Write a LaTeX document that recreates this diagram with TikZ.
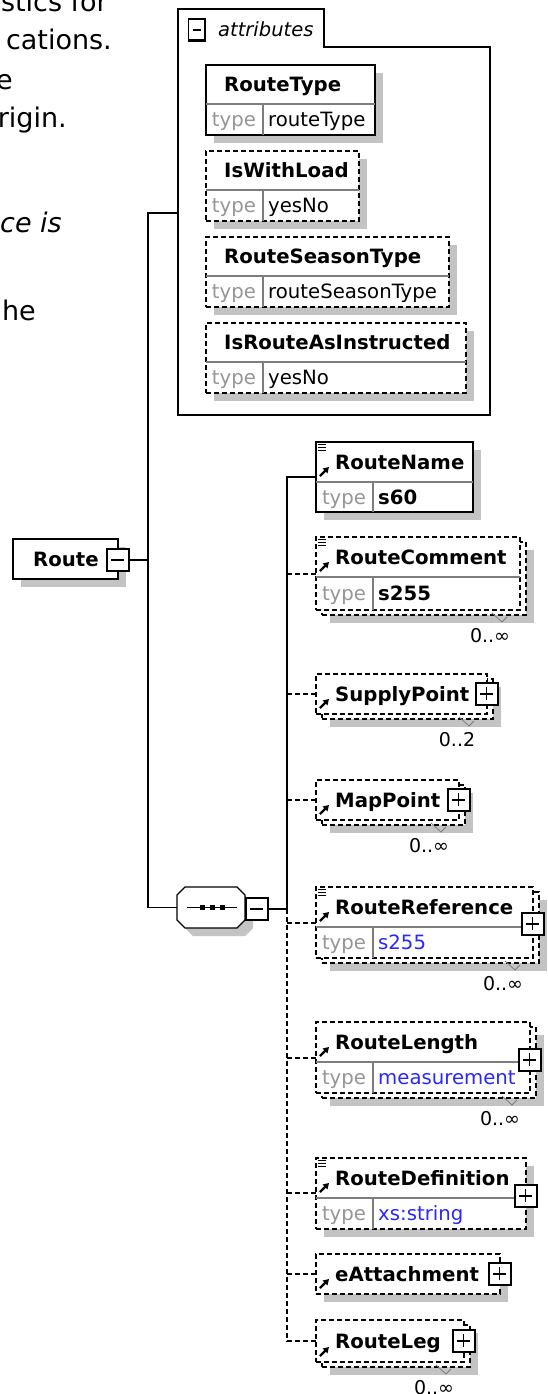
\documentclass[tikz,border=0pt]{standalone}
\usepackage{fontspec}
\setmainfont{DejaVu Sans}
\usetikzlibrary{arrows.meta}
\pgfdeclarelayer{bg}
\pgfsetlayers{bg,main}
\definecolor{shd}{RGB}{195,195,195}
\definecolor{tgray}{RGB}{150,150,150}
\definecolor{dgray}{RGB}{125,125,125}
\definecolor{tblue}{RGB}{40,40,255}
\newcommand{\shadowof}[1]{\begin{pgfonlayer}{bg}\fill[shd] ([shift={(8pt,-8pt)}]#1.north west) rectangle ([shift={(8pt,-8pt)}]#1.south east);\end{pgfonlayer}}
\newcommand{\docicon}[1]{\foreach \dy in {2.5pt,5.5pt,8.5pt}{\draw[line width=1.1pt] ([shift={(2pt,-\dy)}]#1.north west) -- ([shift={(9.5pt,-\dy)}]#1.north west);}}
\newcommand{\refarrow}[3]{\draw[line width=2.2pt,-{Triangle[length=5.5pt,width=6.5pt]}] ([shift={(4pt,-#2)}]#1.north west) -- ([shift={(13pt,-#3)}]#1.north west);}
\newcommand{\typedcell}[5]{%
  \draw[divl] ([yshift=-#2]#1.north west) -- ([yshift=-#2]#1.north east);
  \draw[divl] ([shift={(57pt,-#2)}]#1.north west) -- ([xshift=57pt]#1.south west);
  \node[tp] (#1-tl) at ([shift={(28pt,-#3)}]#1.north west) {type};
  \node[#4] (#1-tv) at ([shift={(62pt,-#3)}]#1.north west) {#5};}
\newcommand{\multmark}[2]{%
  \draw[dgray,line width=0.8pt] ([shift={(-34pt,2pt)}]#1.south east) -- ([shift={(-24pt,-7pt)}]#1.south east) -- ([shift={(-19pt,-2pt)}]#1.south east);
  \node[mult] (#1-mult) at ([shift={(-36pt,-21pt)}]#1.south east) {#2};}
\begin{document}
\begin{tikzpicture}[x=1pt,y=-1pt,
  box/.style={draw=black, fill=white, line width=1.5pt, inner sep=0pt, outer sep=0pt, anchor=north west},
  opt/.style={dash pattern=on 5pt off 3pt},
  nm/.style={font=\fontsize{19.7}{22}\selectfont\bfseries, inner sep=0pt, anchor=west, text height=14.2pt, text depth=0pt},
  tp/.style={font=\fontsize{19.7}{22}\selectfont, text=tgray, inner sep=0pt, text height=14.2pt, text depth=0pt},
  val/.style={font=\fontsize{19.7}{22}\selectfont, inner sep=0pt, anchor=west, text height=14.2pt, text depth=0pt},
  bval/.style={val, font=\fontsize{19.7}{22}\selectfont\bfseries},
  bluev/.style={val, text=tblue},
  mult/.style={font=\fontsize{19}{21}\selectfont, inner sep=0pt, text height=13.5pt, text depth=0pt},
  divl/.style={draw=dgray, line width=1.2pt},
  conn/.style={line width=1.5pt},
  para/.style={font=\fontsize{27}{32}\selectfont, inner sep=0pt, anchor=base east},
  btn/.style={draw=black, fill=white, line width=1.2pt, solid, minimum width=22pt, minimum height=22pt, inner sep=0pt, outer sep=0pt},
  minusbtn/.style={btn, path picture={
    \draw[line width=3pt] (path picture bounding box.north east) -- (path picture bounding box.south east) -- (path picture bounding box.south west);
    \draw[line width=1.5pt] ([xshift=4pt]path picture bounding box.west) -- ([xshift=-5pt]path picture bounding box.east);}},
  plusbtn/.style={btn, path picture={
    \draw[line width=3pt] (path picture bounding box.north east) -- (path picture bounding box.south east) -- (path picture bounding box.south west);
    \draw[line width=1.5pt] ([xshift=4pt]path picture bounding box.west) -- ([xshift=-5pt]path picture bounding box.east);
    \draw[line width=1.5pt] ([yshift=-4pt,xshift=-0.5pt]path picture bounding box.north) -- ([yshift=5pt,xshift=-0.5pt]path picture bounding box.south);}}
]
\useasboundingbox (0,0) rectangle (548,1394);

% ---- cut-off paragraph text on the left
\node[para] (p1) at (108,12) {stics for};
\node[para] (p2) at (112,50) {cations.};
\node[para] (p3) at (13,90) {e};
\node[para] (p4) at (67,128) {rigin.};
\node[para, font=\fontsize{27}{32}\selectfont\itshape] (p5) at (62,232) {ce is};
\node[para] (p6) at (36,320) {he};

% ---- attributes group
\node[box, draw=none, fill=none, minimum width=312pt, minimum height=368pt] (attrs) at (178,47) {};
\draw[line width=1.5pt] (attrs.north east) -- (attrs.south east) -- (attrs.south west) -- ([yshift=38pt]attrs.north west) -- ([shift={(146pt,38pt)}]attrs.north west) -- ([xshift=146pt]attrs.north west) -- cycle;
\node[minusbtn, minimum width=17pt, minimum height=22pt] (attrs-m) at (197,30) {};
\node[font=\fontsize{19.5}{22}\selectfont\itshape, inner sep=0pt, anchor=west, text height=14pt, text depth=0pt] (attrs-l) at (218,30) {attributes};

\node[box, minimum width=169pt, minimum height=70pt] (a1) at (206,65) {};
\shadowof{a1}
\typedcell{a1}{39pt}{54.5pt}{val}{routeType}
\node[nm] (a1-n) at ([shift={(18pt,-19.5pt)}]a1.north west) {RouteType};

\node[box, opt, minimum width=153pt, minimum height=70pt] (a2) at (206,151) {};
\shadowof{a2}
\typedcell{a2}{39pt}{54.5pt}{val}{yesNo}
\node[nm] (a2-n) at ([shift={(18pt,-19.5pt)}]a2.north west) {IsWithLoad};

\node[box, opt, minimum width=243pt, minimum height=70pt] (a3) at (206,237) {};
\shadowof{a3}
\typedcell{a3}{39pt}{54.5pt}{val}{routeSeasonType}
\node[nm] (a3-n) at ([shift={(18pt,-19.5pt)}]a3.north west) {RouteSeasonType};

\node[box, opt, minimum width=260pt, minimum height=70pt] (a4) at (206,323) {};
\shadowof{a4}
\typedcell{a4}{39pt}{54.5pt}{val}{yesNo}
\node[nm] (a4-n) at ([shift={(18pt,-19.5pt)}]a4.north west) {IsRouteAsInstructed};

% ---- Route
\node[box, minimum width=105pt, minimum height=40pt] (route) at (13,539) {};
\shadowof{route}
\node[nm] (route-n) at ([xshift=20pt]route.west) {Route};
\node[minusbtn] (route-m) at ([yshift=-1pt]route.east) {};

% ---- sequence compositor
\node[inner sep=0pt, outer sep=0pt, minimum width=68pt, minimum height=41pt] (seq) at (211,907.5) {};
\coordinate (s1) at ([xshift=8pt]seq.north west);
\coordinate (s2) at ([xshift=-8pt]seq.north east);
\coordinate (s3) at ([yshift=-8pt]seq.north east);
\coordinate (s4) at ([yshift=8pt]seq.south east);
\coordinate (s5) at ([xshift=-8pt]seq.south east);
\coordinate (s6) at ([xshift=8pt]seq.south west);
\coordinate (s7) at ([yshift=8pt]seq.south west);
\coordinate (s8) at ([yshift=-8pt]seq.north west);
\begin{pgfonlayer}{bg}
\fill[shd] ([shift={(8pt,-8pt)}]s1) -- ([shift={(8pt,-8pt)}]s2) -- ([shift={(8pt,-8pt)}]s3) -- ([shift={(8pt,-8pt)}]s4) -- ([shift={(8pt,-8pt)}]s5) -- ([shift={(8pt,-8pt)}]s6) -- ([shift={(8pt,-8pt)}]s7) -- ([shift={(8pt,-8pt)}]s8) -- cycle;
\end{pgfonlayer}
\draw[line width=1.3pt, fill=white] (s1) -- (s2) -- (s3) -- (s4) -- (s5) -- (s6) -- (s7) -- (s8) -- cycle;
\draw[line width=1.3pt] ([xshift=10pt]seq.west) -- ([xshift=-8pt]seq.east);
\foreach \dx in {-9pt,1pt,11pt}{\fill ([shift={(\dx-2.5pt,-2.5pt)}]seq.center) rectangle ([shift={(\dx+2.5pt,2.5pt)}]seq.center);}
\node[minusbtn] (seq-m) at ([shift={(12pt,-1.5pt)}]seq.east) {};

% ---- RouteName
\node[box, minimum width=157pt, minimum height=70pt] (rn) at (316,442) {};
\shadowof{rn}
\typedcell{rn}{40pt}{55pt}{bval}{s60}
\docicon{rn}
\refarrow{rn}{34pt}{25pt}
\node[nm] (rn-n) at ([shift={(19pt,-20pt)}]rn.north west) {RouteName};
\coordinate (rn-in) at ([yshift=-35pt]rn.north west);

% ---- RouteComment
\node[box, opt, minimum width=204pt, minimum height=73pt] (rc-b) at (322,542) {};
\shadowof{rc-b}
\node[box, opt, minimum width=204pt, minimum height=73pt] (rc) at (316,537) {};
\typedcell{rc}{40pt}{56.5pt}{bval}{s255}
\docicon{rc}
\refarrow{rc}{34pt}{25pt}
\node[nm] (rc-n) at ([shift={(19pt,-20pt)}]rc.north west) {RouteComment};
\coordinate (rc-in) at ([yshift=-37pt]rc.north west);
\multmark{rc-b}{0..∞}

% ---- SupplyPoint
\node[box, opt, minimum width=171pt, minimum height=40pt] (sp-b) at (322,679) {};
\shadowof{sp-b}
\node[box, opt, minimum width=171pt, minimum height=40pt] (sp) at (316,674) {};
\refarrow{sp}{34pt}{25pt}
\node[nm] (sp-n) at ([xshift=19pt]sp.west) {SupplyPoint};
\node[plusbtn] (sp-p) at (sp.east) {};
\coordinate (sp-in) at (sp.west);
\multmark{sp-b}{0..2}

% ---- MapPoint
\node[box, opt, minimum width=143pt, minimum height=40pt] (mp-b) at (322,785) {};
\shadowof{mp-b}
\node[box, opt, minimum width=143pt, minimum height=40pt] (mp) at (316,780) {};
\refarrow{mp}{34pt}{25pt}
\node[nm] (mp-n) at ([xshift=19pt]mp.west) {MapPoint};
\node[plusbtn] (mp-p) at (mp.east) {};
\coordinate (mp-in) at (mp.west);
\multmark{mp-b}{0..∞}

% ---- RouteReference
\node[box, opt, minimum width=217pt, minimum height=71pt] (rr-b) at (322,892) {};
\shadowof{rr-b}
\node[box, opt, minimum width=217pt, minimum height=71pt] (rr) at (316,887) {};
\typedcell{rr}{40pt}{55.5pt}{bluev}{s255}
\docicon{rr}
\refarrow{rr}{34pt}{25pt}
\node[nm] (rr-n) at ([shift={(19pt,-20pt)}]rr.north west) {RouteReference};
\node[plusbtn] (rr-p) at ([yshift=-37pt]rr.north east) {};
\coordinate (rr-in) at ([yshift=-36pt]rr.north west);
\multmark{rr-b}{0..∞}

% ---- RouteLength
\node[box, opt, minimum width=214pt, minimum height=71pt] (rlen-b) at (322,1027) {};
\shadowof{rlen-b}
\node[box, opt, minimum width=214pt, minimum height=71pt] (rlen) at (316,1022) {};
\typedcell{rlen}{40pt}{55.5pt}{bluev}{measurement}
\refarrow{rlen}{34pt}{25pt}
\node[nm] (rlen-n) at ([shift={(19pt,-20pt)}]rlen.north west) {RouteLength};
\node[plusbtn] (rlen-p) at ([yshift=-38pt]rlen.north east) {};
\coordinate (rlen-in) at ([yshift=-36pt]rlen.north west);
\multmark{rlen-b}{0..∞}

% ---- RouteDefinition
\node[box, opt, minimum width=210pt, minimum height=71pt] (rd) at (316,1158) {};
\shadowof{rd}
\typedcell{rd}{40pt}{55.5pt}{bluev}{xs:string}
\docicon{rd}
\refarrow{rd}{34pt}{25pt}
\node[nm] (rd-n) at ([shift={(19pt,-20pt)}]rd.north west) {RouteDefinition};
\node[plusbtn] (rd-p) at ([yshift=-38pt]rd.north east) {};
\coordinate (rd-in) at ([yshift=-35pt]rd.north west);

% ---- eAttachment
\node[box, opt, minimum width=184pt, minimum height=40pt] (ea) at (316,1254) {};
\shadowof{ea}
\refarrow{ea}{34pt}{25pt}
\node[nm] (ea-n) at ([xshift=19pt]ea.west) {eAttachment};
\node[plusbtn] (ea-p) at (ea.east) {};
\coordinate (ea-in) at (ea.west);

% ---- RouteLeg
\node[box, opt, minimum width=148pt, minimum height=42pt] (rl-b) at (322,1325) {};
\shadowof{rl-b}
\node[box, opt, minimum width=148pt, minimum height=42pt] (rl) at (316,1320) {};
\refarrow{rl}{36pt}{27pt}
\node[nm] (rl-n) at ([xshift=19pt]rl.west) {RouteLeg};
\node[plusbtn] (rl-p) at (rl.east) {};
\coordinate (rl-in) at (rl.west);
\multmark{rl-b}{0..∞}

% ---- connectors
\coordinate (attrs-in) at ([yshift=-166pt]attrs.north west);
\coordinate (lbar) at (148,213);
\coordinate (rbar) at (287,477);
\draw[conn] (attrs-in) -- (lbar) -- (lbar |- seq.west) -- (seq.west);
\draw[conn] (route-m.east) -- (route-m.east -| lbar);
\draw[conn] (rn-in) -- (rbar) -- (rbar |- seq-m.east) -- (seq-m.east);
\draw[conn, opt] (rbar |- seq-m.east) -- (rbar |- rl-in) -- (rl-in);
\foreach \n in {rc,sp,mp,rr,rlen,rd,ea}{\draw[conn, opt] (rbar |- \n-in) -- (\n-in);}
\end{tikzpicture}
\end{document}
